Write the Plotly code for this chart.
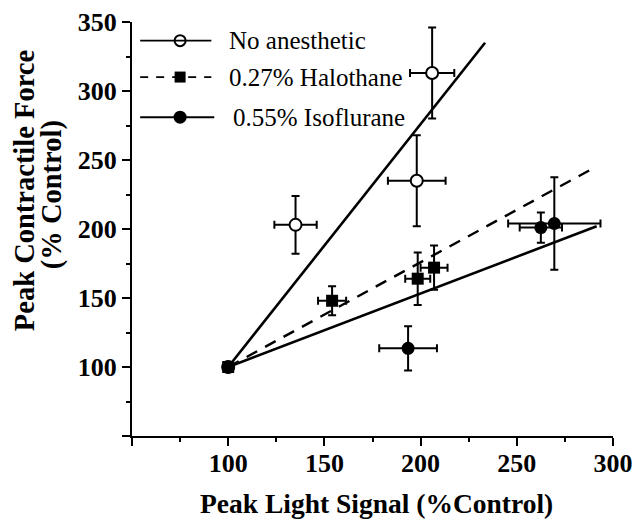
import plotly.graph_objects as go

# ---------------- data ----------------
none_x = [100, 135, 198, 206]
none_y = [100, 203, 235, 313]
none_ex = [0, 11, 15, 11.5]
none_ey = [0, 21, 33, 33]

halo_x = [100, 154, 198.5, 207]
halo_y = [100, 148, 164, 172]
halo_ex = [0, 7.3, 6.5, 7]
halo_ey = [0, 10.5, 19, 16]

iso_x = [100, 193.5, 262.5, 269.5]
iso_y = [100, 113.5, 201, 204]
iso_ex = [0, 15, 11, 24]
iso_ey = [0, 16, 11, 33.5]

# fitted lines: start and end points
fit_x0 = [100, 100, 100]
fit_y0 = [100, 100, 100]
fit_x1 = [233.5, 291, 291.5]
fit_y1 = [335, 245, 202]

x_ticks = [50, 100, 150, 200, 250, 300]
x_ticktext = ["", "100", "150", "200", "250", "300"]
y_ticks = [50, 100, 150, 200, 250, 300, 350]
y_ticktext = ["", "100", "150", "200", "250", "300", "350"]

legend_names = ["No anesthetic", "0.27% Halothane", "0.55% Isoflurane"]

SERIF = "Liberation Serif"
fig = go.Figure()

# fitted lines
fig.add_trace(go.Scatter(x=[fit_x0[0], fit_x1[0]], y=[fit_y0[0], fit_y1[0]], mode="lines",
                         line=dict(color="black", width=2.6), showlegend=False, hoverinfo="skip"))
fig.add_trace(go.Scatter(x=[fit_x0[1], fit_x1[1]], y=[fit_y0[1], fit_y1[1]], mode="lines",
                         line=dict(color="black", width=2.4, dash="12px,9px"), showlegend=False, hoverinfo="skip"))
fig.add_trace(go.Scatter(x=[fit_x0[2], fit_x1[2]], y=[fit_y0[2], fit_y1[2]], mode="lines",
                         line=dict(color="black", width=2.6), showlegend=False, hoverinfo="skip"))

def eb(arr):
    return dict(type="data", array=arr, visible=True, color="black", thickness=2, width=4)

fig.add_trace(go.Scatter(x=none_x, y=none_y, mode="markers",
                         error_x=eb(none_ex), error_y=eb(none_ey),
                         marker=dict(symbol="circle", size=12, color="white", line=dict(color="black", width=2)),
                         showlegend=False))
fig.add_trace(go.Scatter(x=iso_x, y=iso_y, mode="markers",
                         error_x=eb(iso_ex), error_y=eb(iso_ey),
                         marker=dict(symbol="circle", size=13, color="black", line=dict(color="black", width=0)),
                         showlegend=False))
fig.add_trace(go.Scatter(x=halo_x, y=halo_y, mode="markers",
                         error_x=eb(halo_ex), error_y=eb(halo_ey),
                         marker=dict(symbol="square", size=12, color="black", line=dict(color="black", width=0)),
                         showlegend=False))

# ---------------- custom legend (paper coords via overlay axis) ----------------
rows_y = [0.955, 0.867, 0.770]
lx0, lx1, mx = 0.017, 0.165, 0.100
text_x = [0.198, 0.198, 0.206]

shapes = []
shapes.append(dict(type="line", xref="paper", yref="paper", x0=lx0, x1=lx1, y0=rows_y[0], y1=rows_y[0],
                   line=dict(color="black", width=1.6)))
shapes.append(dict(type="line", xref="paper", yref="paper", x0=lx0, x1=lx1, y0=rows_y[1], y1=rows_y[1],
                   line=dict(color="black", width=1.8, dash="8px,8px")))
shapes.append(dict(type="line", xref="paper", yref="paper", x0=lx0, x1=lx1 + 0.006, y0=rows_y[2], y1=rows_y[2],
                   line=dict(color="black", width=2)))

fig.add_trace(go.Scatter(x=[mx], y=[rows_y[0]], xaxis="x2", yaxis="y2", mode="markers",
                         marker=dict(symbol="circle", size=11, color="white", line=dict(color="black", width=2)),
                         showlegend=False, hoverinfo="skip"))
fig.add_trace(go.Scatter(x=[mx], y=[rows_y[1]], xaxis="x2", yaxis="y2", mode="markers",
                         marker=dict(symbol="square", size=11, color="black"),
                         showlegend=False, hoverinfo="skip"))
fig.add_trace(go.Scatter(x=[mx], y=[rows_y[2]], xaxis="x2", yaxis="y2", mode="markers",
                         marker=dict(symbol="circle", size=13, color="black"),
                         showlegend=False, hoverinfo="skip"))

annotations = []
for name, yy, tx in zip(legend_names, rows_y, text_x):
    annotations.append(dict(text=name, xref="paper", yref="paper", x=tx, y=yy, xanchor="left",
                            yanchor="middle", showarrow=False,
                            font=dict(family=SERIF, size=25, color="black")))

# axis titles
annotations.append(dict(text="Peak Light Signal (%Control)", xref="paper", yref="paper",
                        x=0.509, y=-0.162, xanchor="center", yanchor="middle", showarrow=False,
                        font=dict(family=SERIF, size=27.5, color="black", weight="bold")))
annotations.append(dict(text="Peak Contractile Force", xref="paper", yref="paper",
                        x=-0.222, y=0.592, xanchor="center", yanchor="middle", textangle=-90, showarrow=False,
                        font=dict(family=SERIF, size=28.5, color="black", weight="bold")))
annotations.append(dict(text="(% Control)", xref="paper", yref="paper",
                        x=-0.166, y=0.582, xanchor="center", yanchor="middle", textangle=-90, showarrow=False,
                        font=dict(family=SERIF, size=28.5, color="black", weight="bold")))

tickfont = dict(family=SERIF, size=26, color="black", weight="bold")
fig.update_layout(
    width=635, height=512,
    margin=dict(l=124, r=30, t=14, b=84),
    paper_bgcolor="white", plot_bgcolor="white",
    shapes=shapes, annotations=annotations,
    xaxis=dict(range=[50, 300], showline=True, linewidth=2, linecolor="black", showgrid=False, zeroline=False,
               automargin=False, ticklabelstandoff=-5,
               tickmode="array", tickvals=x_ticks, ticktext=x_ticktext, ticks="outside", ticklen=8, tickwidth=2,
               tickcolor="black", tickfont=tickfont,
               minor=dict(ticks="outside", ticklen=4, tickwidth=2, tickcolor="black", dtick=25, tick0=50)),
    yaxis=dict(range=[50, 350], showline=True, linewidth=2, linecolor="black", showgrid=False, zeroline=False,
               automargin=False,
               tickmode="array", tickvals=y_ticks, ticktext=y_ticktext, ticks="outside", ticklen=8, tickwidth=2,
               tickcolor="black", tickfont=tickfont,
               minor=dict(ticks="outside", ticklen=4, tickwidth=2, tickcolor="black", dtick=25, tick0=50)),
    xaxis2=dict(range=[0, 1], overlaying="x", visible=False, domain=[0, 1], automargin=False),
    yaxis2=dict(range=[0, 1], overlaying="y", visible=False, automargin=False),
    showlegend=False,
)

fig.write_html("out.html")
